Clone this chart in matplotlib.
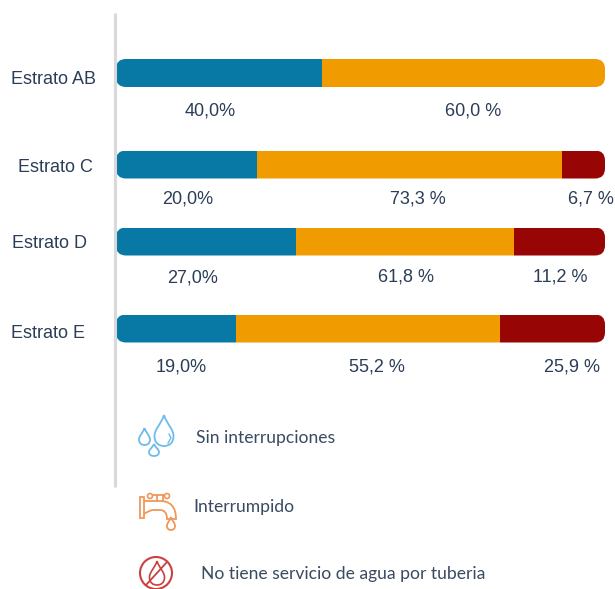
import matplotlib
matplotlib.use('Agg')
from matplotlib import pyplot as plt
from matplotlib.patches import FancyBboxPatch, PathPatch, Circle, Rectangle
from matplotlib.path import Path

WIDTH, HEIGHT = 615, 589

categories = ['Estrato AB', 'Estrato C', 'Estrato D', 'Estrato E']
# Bar lengths as drawn in the picture, they differ from the printed labels
sin_interrupciones = [42.1, 28.8, 36.8, 24.5]
interrumpido = [57.9, 62.4, 44.6, 54.0]
sin_servicio = [0.0, 8.8, 18.6, 21.5]

labels_azul = ['40,0%', '20,0%', '27,0%', '19,0%']
labels_naranja = ['60,0 %', '73,3 %', '61,8 %', '55,2 %']
labels_rojo = ['', '6,7 %', '11,2 %', '25,9 %']

legend_names = ['Sin interrupciones', 'Interrumpido', 'No tiene servicio de agua por tuberia']

rowY = [73, 164.5, 241.5, 328.5]
rowTextY = [79.5, 168, 243.5, 333]
rowLabelX = [53.5, 55, 50, 48]
labelPos = [
    [(210.5, 111), (473, 111), None],
    [(187.5, 199), (418, 199), (591, 199)],
    [(192.5, 278), (406, 277), (560, 277)],
    [(181.5, 367), (377, 367), (572, 367)],
]
legendPos = [(196, 438), (193, 507), (201, 574)]

BLUE = '#0878a4'
ORANGE = '#f09c00'
RED = '#970505'
TEXT = '#2b3d57'
LEGEND_TEXT = '#3a4a60'

fig = plt.figure(figsize=(WIDTH / 100, HEIGHT / 100), dpi=100)

# Pixel overlay for the texts, axis line and icons
over = fig.add_axes([0, 0, 1, 1], zorder=2)
over.set_xlim(0, WIDTH)
over.set_ylim(HEIGHT, 0)
over.axis('off')

# Bars: 0-100 runs across the pixel range 116-605
left, right = 116, 605
ax = fig.add_axes([left / WIDTH, 0, (right - left) / WIDTH, 1], zorder=1)
ax.set_xlim(0, 100)
ax.set_ylim(HEIGHT, 0)
ax.axis('off')
xPerPx = 100 / (right - left)
barH = 28

for i, y in enumerate(rowY):
    start = 0
    outline = FancyBboxPatch((0, y - barH / 2), 100, barH,
                             boxstyle='round,pad=0,rounding_size=%f' % (10 * xPerPx),
                             mutation_aspect=1 / xPerPx, fc='none', ec='none')
    ax.add_patch(outline)
    for values, color in zip([sin_interrupciones, interrumpido, sin_servicio], [BLUE, ORANGE, RED]):
        bars = ax.barh(y, values[i], height=barH, left=start, color=color, linewidth=0)
        bars[0].set_clip_path(outline)
        start += values[i]

over.plot([115, 115], [13, 487], color='#d9d9d9', lw=2.2, solid_capstyle='butt')

for i, name in enumerate(categories):
    over.text(rowLabelX[i], rowTextY[i], name, ha='center', va='center',
              family='Liberation Sans', fontsize=13, color=TEXT)
    rowTexts = [labels_azul[i], labels_naranja[i], labels_rojo[i]]
    for pos, txt in zip(labelPos[i], rowTexts):
        if pos is not None:
            over.text(pos[0], pos[1], txt, ha='center', va='center',
                      family='Liberation Sans', fontsize=13, color=TEXT)

for pos, name in zip(legendPos, legend_names):
    over.text(pos[0], pos[1], name, ha='left', va='center', family='Lato',
              fontsize=12.6, color=LEGEND_TEXT)


def drop(cx, tipY, w, h, color, lw=1.3, fill='none'):
    # Teardrop with its tip on top
    bottom = tipY + h
    r = w / 2
    verts = [(cx, tipY),
             (cx + r * 0.3, tipY + h * 0.3), (cx + r, tipY + h * 0.45), (cx + r, tipY + h * 0.68),
             (cx + r, tipY + h * 0.9), (cx + r * 0.55, bottom), (cx, bottom),
             (cx - r * 0.55, bottom), (cx - r, tipY + h * 0.9), (cx - r, tipY + h * 0.68),
             (cx - r, tipY + h * 0.45), (cx - r * 0.3, tipY + h * 0.3), (cx, tipY)]
    codes = [Path.MOVETO] + [Path.CURVE4] * 12
    over.add_patch(PathPatch(Path(verts, codes), fc=fill, ec=color, lw=lw))


# Water drops
dropBlue = '#6dbcec'
drop(164, 415, 19, 31, dropBlue)
drop(144.5, 428, 11, 17, dropBlue)
drop(154, 444, 10, 12, dropBlue)
over.plot([169, 171, 168], [434, 438, 443], color=dropBlue, lw=1)

# Tap
tapColor = '#f0975a'
over.add_patch(Rectangle((140, 497), 4, 21, fc='none', ec=tapColor, lw=1.3))
tapBody = Path([(144, 501), (160, 501), (176, 501), (176, 519), (176, 519), (167, 519), (167, 519),
                (167, 510), (160, 510), (153, 510), (150, 510), (144, 514)],
               [Path.MOVETO, Path.LINETO, Path.CURVE3, Path.CURVE3, Path.LINETO, Path.LINETO, Path.LINETO,
                Path.CURVE3, Path.CURVE3, Path.LINETO, Path.CURVE3, Path.CURVE3])
over.add_patch(PathPatch(tapBody, fc='none', ec=tapColor, lw=1.3))
over.plot([157, 157], [495, 501], color=tapColor, lw=1.3)
over.plot([163, 163], [495, 501], color=tapColor, lw=1.3)
over.plot([153, 167], [495, 495], color=tapColor, lw=1.3)
over.add_patch(Circle((150, 496), 2.5, fc='white', ec=tapColor, lw=1.2, zorder=3))
over.add_patch(Circle((167, 496), 2.5, fc='white', ec=tapColor, lw=1.2, zorder=3))
drop(171, 517, 8, 13, tapColor)

# No water sign
signRed = '#c9413f'
over.add_patch(Circle((156, 573), 16, fc='none', ec=signRed, lw=1.5, clip_on=False))
drop(157, 561, 15, 24, signRed, lw=1.2)
over.plot([146, 167], [585, 562], color=signRed, lw=1.3)

fig.savefig('out.png', dpi=100)
